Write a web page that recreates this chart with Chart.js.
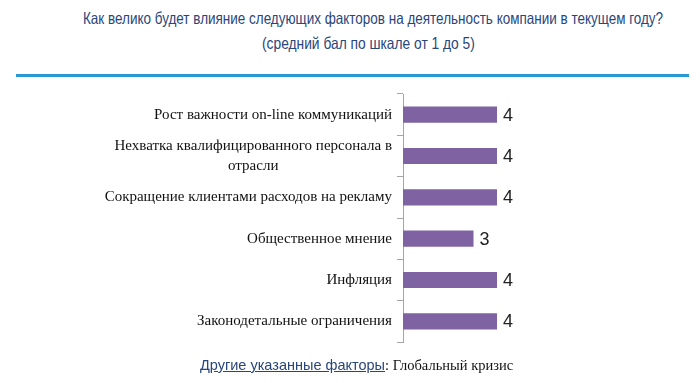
<!DOCTYPE html>
<html><head><meta charset="utf-8">
<script src="https://cdn.jsdelivr.net/npm/chart.js@4/dist/chart.umd.min.js"></script>
<style>
html,body{margin:0;padding:0;background:#fff;width:700px;height:383px;overflow:hidden;position:relative}
.tl{position:absolute;white-space:nowrap;font-family:"Liberation Sans",Arial,sans-serif;font-size:16.5px;line-height:20px;color:#29467a;transform-origin:0 0}
#rule{position:absolute;left:16px;top:74px;width:673px;height:3px;background:#2b9ad2}
#c{position:absolute;left:0;top:0}
#f{position:absolute;left:200px;top:357px;font-size:14.5px;white-space:nowrap}
#f u{font-family:"Liberation Sans",Arial,sans-serif;color:#29467a}
#f span{font-family:"Liberation Serif",serif;color:#111}
</style></head><body>
<div class="tl" id="t1">Как велико будет влияние следующих факторов на деятельность компании в текущем году?</div>
<div class="tl" id="t2">(средний бал по шкале от 1 до 5)</div>
<div id="rule"></div>
<canvas id="c" width="700" height="383"></canvas>
<div id="f"><u>Другие указанные факторы</u><span>: Глобальный кризис</span></div>
<script>
const categories = [
  "Рост важности on-line коммуникаций",
  ["Нехватка квалифицированного персонала в", "отрасли"],
  "Сокращение клиентами расходов на рекламу",
  "Общественное мнение",
  "Инфляция",
  "Законодетальные ограничения"
];
const values = [4, 4, 4, 3, 4, 4];

function fitLine(id, left, right, top) {
  const el = document.getElementById(id);
  const w = el.offsetWidth;
  const s = (right - left) / w;
  el.style.left = left + 'px';
  el.style.top = top + 'px';
  el.style.transform = 'scaleX(' + s + ')';
}
fitLine('t1', 83, 663, 8);
fitLine('t2', 262, 475, 33);

const valueLabels = {
  id: 'valueLabels',
  afterDatasetsDraw(chart) {
    const ctx = chart.ctx;
    const meta = chart.getDatasetMeta(0);
    ctx.save();
    ctx.font = '18px "Liberation Sans", Arial, sans-serif';
    ctx.fillStyle = '#222';
    ctx.textBaseline = 'middle';
    ctx.textAlign = 'left';
    meta.data.forEach((bar, i) => {
      ctx.fillText(String(values[i]), bar.x + 6, bar.y + 1);
    });
    ctx.restore();
  }
};

// category labels: block right-aligned to the axis, lines centred inside the block
const catLabels = {
  id: 'catLabels',
  afterDraw(chart) {
    const ctx = chart.ctx;
    const ys = chart.scales.y;
    const right = ys.right - 11;
    const lh = 20;
    ctx.save();
    ctx.font = '15px "Liberation Serif", serif';
    ctx.fillStyle = '#111';
    ctx.textBaseline = 'middle';
    ctx.textAlign = 'center';
    categories.forEach((lab, i) => {
      const lines = Array.isArray(lab) ? lab : [lab];
      const w = Math.max(...lines.map(l => ctx.measureText(l).width));
      const cx = right - w / 2;
      const y0 = ys.getPixelForValue(i) - (lines.length - 1) * lh / 2;
      lines.forEach((l, k) => ctx.fillText(l, cx, y0 + k * lh));
    });
    ctx.restore();
  }
};

new Chart(document.getElementById('c'), {
  type: 'bar',
  data: {
    labels: categories,
    datasets: [{
      data: values,
      backgroundColor: '#7f62a1',
      borderWidth: 0,
      barPercentage: 0.78,
      categoryPercentage: 0.5
    }]
  },
  options: {
    indexAxis: 'y',
    responsive: false,
    animation: false,
    layout: { padding: { top: 94, bottom: 41, left: 0, right: 179.5 } },
    plugins: { legend: { display: false }, tooltip: { enabled: false } },
    scales: {
      x: { display: false, min: 0, max: 5 },
      y: {
        afterFit(s) { s.width = 403; },
        border: { display: true, color: '#a6a6a6', width: 1 },
        grid: { display: true, offset: true, drawOnChartArea: false, drawTicks: true, tickLength: 6, color: '#a6a6a6' },
        ticks: { display: false, autoSkip: false }
      }
    }
  },
  plugins: [valueLabels, catLabels]
});
</script>
</body></html>
